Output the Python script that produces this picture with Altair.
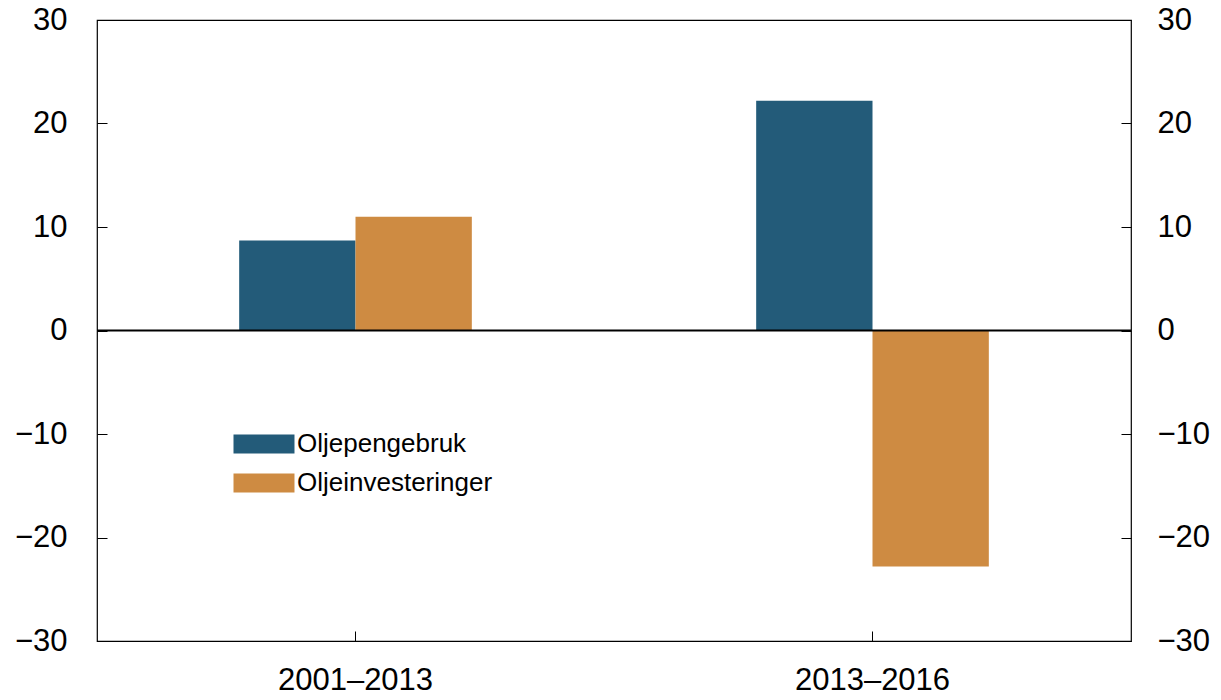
import altair as alt
import pandas as pd

periods = ["2001–2013", "2013–2016"]
series = ["Oljepengebruk", "Oljeinvesteringer"]
oljepengebruk = [8.7, 22.2]
oljeinvesteringer = [11.0, -22.8]
colors = ["#235B79", "#CE8B42"]
y_ticks = [-30, -20, -10, 0, 10, 20, 30]

rows = []
for i, p in enumerate(periods):
    rows.append({"period": p, "series": series[0], "value": oljepengebruk[i]})
    rows.append({"period": p, "series": series[1], "value": oljeinvesteringer[i]})
df = pd.DataFrame(rows)

FONT = "Liberation Sans"
yscale = alt.Scale(domain=[-30, 30], nice=False, zero=False)

left_axis = alt.Axis(
    orient="left", values=y_ticks, title=None, domain=False, grid=False,
    offset=-10, tickSize=10, tickColor="black", labelPadding=30,
    labelFontSize=31, labelFont=FONT, labelColor="black", format="d",
)
right_axis = alt.Axis(
    orient="right", values=y_ticks, title=None, domain=False, grid=False,
    offset=-10, tickSize=10, tickColor="black", labelPadding=26,
    labelFontSize=31, labelFont=FONT, labelColor="black", format="d",
    labelAlign="left",
)

bars = alt.Chart(df).mark_bar().encode(
    x=alt.X("period:N", sort=periods,
            scale=alt.Scale(paddingInner=0.55, paddingOuter=0.275),
            axis=alt.Axis(title=None, domain=False, grid=False, labelAngle=0,
                          offset=-10, tickSize=10, tickColor="black",
                          labelPadding=24, labelFontSize=31, labelFont=FONT,
                          labelColor="black")),
    xOffset=alt.XOffset("series:N", sort=series,
                        scale=alt.Scale(paddingInner=0, paddingOuter=0)),
    y=alt.Y("value:Q", scale=yscale, axis=left_axis),
    color=alt.Color("series:N", sort=series,
                    scale=alt.Scale(domain=series, range=colors),
                    legend=alt.Legend(
                        title=None, orient="none", legendX=133, legendY=411,
                        symbolType="M-1,-1H5.42V1H-1Z", symbolSize=361,
                        symbolStrokeWidth=0, labelFontSize=26, labelFont=FONT,
                        labelColor="black", labelOffset=41, rowPadding=13,
                        labelLimit=500, padding=0)),
)

zero_df = pd.DataFrame({"zero": [0]})
rule = alt.Chart(zero_df).mark_rule(color="black", strokeWidth=2).encode(
    y=alt.Y("zero:Q", scale=yscale, axis=right_axis),
)

chart = alt.layer(bars, rule).resolve_scale(y="shared").resolve_axis(
    y="independent"
).properties(
    width=1034, height=621,
    autosize=alt.AutoSizeParams(type="none"),
    padding={"left": 89, "top": 12, "right": 82, "bottom": 51},
).configure_view(stroke="black", strokeWidth=1.2)

chart.save("out.html", embed_options={"renderer": "svg", "actions": False})
